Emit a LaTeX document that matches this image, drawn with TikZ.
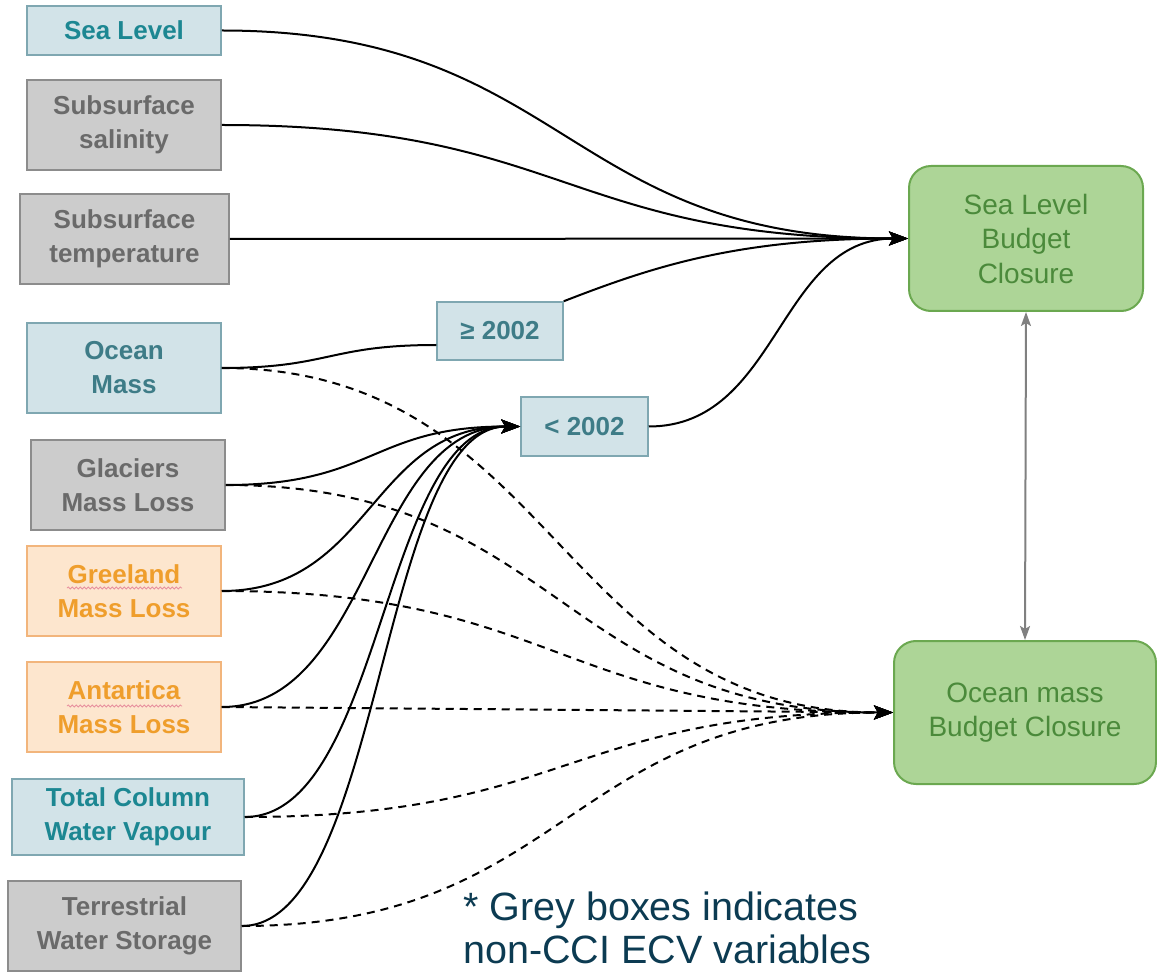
\documentclass[tikz,border=0pt]{standalone}
\usepackage{fontspec}
\setmainfont{Liberation Sans}
\usetikzlibrary{arrows.meta,decorations.pathmorphing,calc}
\definecolor{bluefill}{HTML}{D2E3E8}
\definecolor{blueline}{HTML}{7FA7B1}
\definecolor{tealtext}{HTML}{1C8792}
\definecolor{tealdark}{HTML}{3E7C87}
\definecolor{greyfill}{HTML}{CCCCCC}
\definecolor{greyline}{HTML}{8C8C8C}
\definecolor{greytext}{HTML}{6A6A6A}
\definecolor{orfill}{HTML}{FDE6CE}
\definecolor{orline}{HTML}{F2B57C}
\definecolor{ortext}{HTML}{EF9E2C}
\definecolor{grfill}{HTML}{ADD597}
\definecolor{grline}{HTML}{6BA850}
\definecolor{grtext}{HTML}{4B8A3B}
\definecolor{notetext}{HTML}{0C3B52}
\definecolor{squig}{HTML}{E8909E}
\definecolor{arrgrey}{HTML}{808080}
\tikzset{
  box/.style={draw, line width=1.5pt, inner sep=0pt, align=center,
    font=\fontsize{26}{34}\selectfont\bfseries},
  bluebox/.style={box, fill=bluefill, draw=blueline, text=tealtext},
  blueboxd/.style={box, fill=bluefill, draw=blueline, text=tealdark},
  greybox/.style={box, fill=greyfill, draw=greyline, text=greytext},
  orbox/.style={box, fill=orfill, draw=orline, text=ortext},
  budget/.style={draw=grline, fill=grfill, line width=2pt, rounded corners=22pt,
    inner sep=0pt, align=center, text=grtext, font=\fontsize{28}{34.5}\selectfont},
  solidedge/.style={line width=2pt, -{Stealth[length=19pt,width=14pt,inset=4pt]}},
  plainedge/.style={line width=2pt},
  dashedge/.style={line width=2pt, dash pattern=on 8pt off 6pt,
    -{Stealth[length=19pt,width=14pt,inset=4pt]}},
  wavy/.style={draw=squig, line width=0.8pt, decorate,
    decoration={snake, segment length=4pt, amplitude=1pt}}
}
\begin{document}
\begin{tikzpicture}[x=1pt,y=-1pt]
\useasboundingbox (0,0) rectangle (1157,973);
% left column
\node[bluebox, minimum width=194pt, minimum height=49pt] (sl) at (124,30.5) {Sea Level};
\node[greybox, minimum width=194pt, minimum height=90pt] (ss) at (124,125) {Subsurface\\salinity};
\node[greybox, minimum width=209pt, minimum height=90pt] (st) at (124.5,239) {Subsurface\\temperature};
\node[blueboxd, minimum width=194pt, minimum height=90pt] (om) at (124,368) {Ocean\\Mass};
\node[greybox, minimum width=194pt, minimum height=90pt] (gl) at (128,485) {Glaciers\\Mass Loss};
\node[orbox, minimum width=194pt, minimum height=90pt] (gr) at (124,591) {Greeland\\Mass Loss};
\node[orbox, minimum width=194pt, minimum height=90pt] (an) at (124,707) {Antartica\\Mass Loss};
\node[bluebox, minimum width=232pt, minimum height=76pt] (tc) at (128,817) {Total Column\\Water Vapour};
\node[greybox, minimum width=233pt, minimum height=90pt] (tw) at (124.5,926) {Terrestrial\\Water Storage};
% middle
\node[blueboxd, minimum width=126pt, minimum height=58pt] (ge) at (500,331) {≥ 2002};
\node[blueboxd, minimum width=127pt, minimum height=59pt] (lt) at (584.5,426.5) {< 2002};
% right
\node[budget, minimum width=234pt, minimum height=145pt] (slbc) at (1026,238.5) {Sea Level\\Budget\\Closure};
\node[budget, minimum width=262pt, minimum height=143pt] (ombc) at (1025,712.5) {Ocean mass\\Budget Closure};
% note
\node[anchor=north west, inner sep=0pt, align=left, text=notetext,
  font=\fontsize{39.5}{43}\selectfont] (note) at (463,892) {* Grey boxes indicates\\non-CCI ECV variables};
% spell-check underlines
\draw[wavy] ($(gr.center)+(-57,-3)$) -- ($(gr.center)+(58,-3)$);
\draw[wavy] ($(an.center)+(-57,-1)$) -- ($(an.center)+(58,-1)$);
% edges into Sea Level Budget Closure
\draw[solidedge] (sl.east) .. controls +(344,0) and +(-344,0) .. (slbc.west);
\draw[solidedge] (ss.east) .. controls +(344,0) and +(-344,0) .. (slbc.west);
\draw[solidedge] (st.east) -- (slbc.west);
\draw[plainedge] (om.east) .. controls +(108,0) and +(-108,0) .. ([yshift=-14pt]ge.west);
\draw[solidedge] (ge.north east) .. controls +(90,-35) and +(-170,0) .. (slbc.west);
\draw[solidedge] (lt.east) .. controls +(130,0) and +(-130,0) .. (slbc.west);
% edges into < 2002
\draw[solidedge] (gl.east) .. controls +(148,0) and +(-148,0) .. (lt.west);
\draw[solidedge] (gr.east) .. controls +(150,0) and +(-150,0) .. (lt.west);
\draw[solidedge] (an.east) .. controls +(150,0) and +(-150,0) .. (lt.west);
\draw[solidedge] (tc.east) .. controls +(138,0) and +(-138,0) .. (lt.west);
\draw[solidedge] (tw.east) .. controls +(140,0) and +(-140,0) .. (lt.west);
% dashed edges into Ocean mass Budget Closure
\draw[dashedge] (om.east) .. controls +(336,0) and +(-336,0) .. (ombc.west);
\draw[dashedge] (gl.east) .. controls +(334,0) and +(-334,0) .. (ombc.west);
\draw[dashedge] (gr.east) .. controls +(336,0) and +(-336,0) .. (ombc.west);
\draw[dashedge] (an.east) -- (ombc.west);
\draw[dashedge] (tc.east) .. controls +(325,0) and +(-325,0) .. (ombc.west);
\draw[dashedge] (tw.east) .. controls +(326,0) and +(-326,0) .. (ombc.west);
% link between budgets
\draw[line width=2pt, draw=arrgrey, {Stealth[length=14pt,width=10pt,inset=3pt]}-{Stealth[length=14pt,width=10pt,inset=3pt]}] (slbc.south) -- (ombc.north);
\end{tikzpicture}
\end{document}
